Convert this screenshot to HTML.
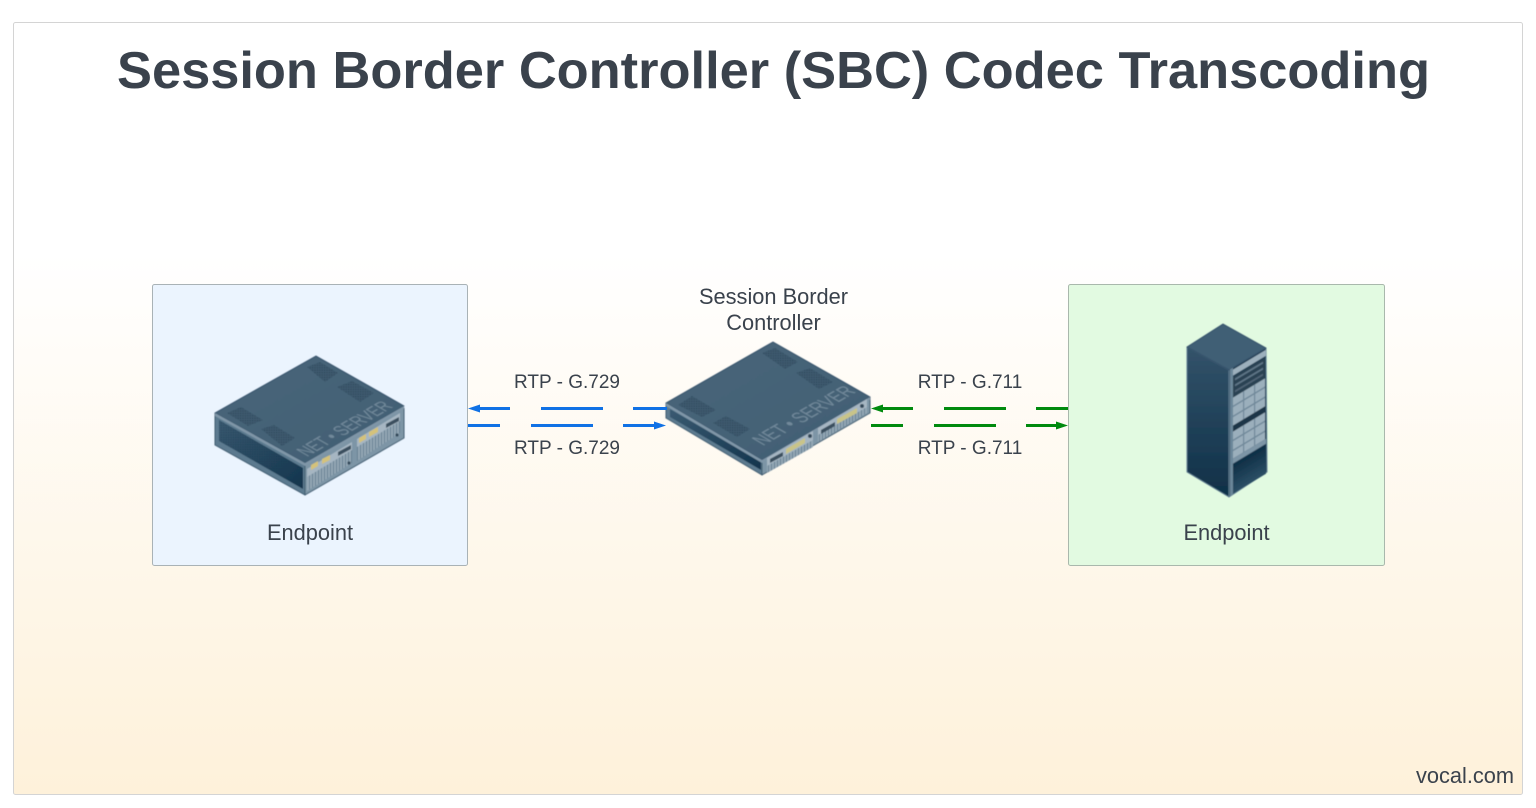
<!DOCTYPE html>
<html>
<head>
<meta charset="utf-8">
<style>
html,body{margin:0;padding:0;background:#fff;width:1536px;height:808px;overflow:hidden}
svg{display:block}
text{font-family:"Liberation Sans",sans-serif;fill:#3a424c}
</style>
</head>
<body>
<svg width="1536" height="808" viewBox="0 0 1536 808" xmlns="http://www.w3.org/2000/svg">
<defs>
<filter id="soft" x="-5%" y="-5%" width="110%" height="110%"><feGaussianBlur stdDeviation="0.45"/></filter>
<linearGradient id="bg" x1="0" y1="0" x2="0" y2="1">
<stop offset="0" stop-color="#ffffff"/>
<stop offset=".3" stop-color="#ffffff"/>
<stop offset="1" stop-color="#fef1da"/>
</linearGradient>
<linearGradient id="topF" x1="0" y1="0" x2="1" y2="1">
<stop offset="0" stop-color="#48657a"/>
<stop offset="1" stop-color="#426074"/>
</linearGradient>
<linearGradient id="sideD" x1="0" y1="0" x2="1" y2="1">
<stop offset="0" stop-color="#3a5a71"/>
<stop offset="1" stop-color="#12344d"/>
</linearGradient>
<linearGradient id="rackL" x1="0" y1="0" x2="0" y2="1">
<stop offset="0" stop-color="#33536a"/>
<stop offset="1" stop-color="#0f3048"/>
</linearGradient>
<linearGradient id="rackB" x1="0" y1="0" x2="0" y2="1">
<stop offset="0" stop-color="#0e2e45"/>
<stop offset="1" stop-color="#2c4f66"/>
</linearGradient>
<pattern id="vent" width="2.4" height="2.4" patternUnits="userSpaceOnUse">
<rect width="2.4" height="2.4" fill="#3f5b70"/>
<rect width="1.2" height="1.2" fill="#2b4559"/>
</pattern>
<pattern id="grid" width="2.4" height="2.4" patternUnits="userSpaceOnUse">
<rect width="2.4" height="2.4" fill="none"/>
<rect width="1.2" height="1.2" fill="#1c3a50" opacity=".55"/>
</pattern>
<pattern id="stripes" width="3" height="4" patternUnits="userSpaceOnUse">
<rect width="3" height="4" fill="#94a8b6"/>
<rect width="1" height="4" fill="#667f91"/>
</pattern>
</defs>

<rect x="13.5" y="22.5" width="1509" height="772" rx="2" fill="url(#bg)" stroke="#d4d4d4" stroke-width="1"/>

<text x="773.5" y="88" text-anchor="middle" font-size="52" font-weight="700" textLength="1313" lengthAdjust="spacingAndGlyphs">Session Border Controller (SBC) Codec Transcoding</text>

<rect x="152.5" y="284.5" width="315" height="281" rx="2" fill="#ebf4fe" stroke="#a9b2b6"/>
<rect x="1068.5" y="284.5" width="316" height="281" rx="2" fill="#e2fae1" stroke="#a9b8ac"/>

<!-- left server -->
<g stroke-linejoin="round" filter="url(#soft)">
<polygon points="215,413 305,465 305,495 215,445" fill="#5c7a8f" stroke="#3f5b70"/>
<polygon points="219,420 303,468 303,489 219,441" fill="url(#sideD)"/>
<polygon points="219,420 303,468 303,489 219,441" fill="url(#grid)"/>
<polygon points="305,465 404,408 404,438 305,495" fill="#7d95a6" stroke="#3f5b70"/>
<polygon points="316,356 404,406 305,463 215,413" fill="url(#topF)" stroke="#36516a"/>
<polygon points="215,413 305,463 305,466 215,416" fill="#7f96a7"/>
<polygon points="305,463 404,406 404,409 305,466" fill="#7f96a7"/>
<polygon points="307,367 320,362 338,373 325,382" fill="url(#vent)"/>
<polygon points="337,387 352,381 374,393 360,402" fill="url(#vent)"/>
<polygon points="227,413 241,407 263,420 248,426" fill="url(#vent)"/>
<polygon points="261,429 274,425 295,438 282,446" fill="url(#vent)"/>
<polygon points="307,469 352,443 352,463 307,491" fill="url(#stripes)"/>
<polygon points="357,440 400,414 400,433 357,461" fill="url(#stripes)"/>
<polygon points="307,469 352,442 352,450 307,477" fill="#a6b6c2"/>
<polygon points="357,439 400,413 400,421 357,447" fill="#a6b6c2"/>
<polygon points="338,452 351,445 351,449 338,456" fill="#3a4f5f"/>
<polygon points="386,424 399,417 399,421 386,428" fill="#3a4f5f"/>
<g fill="#d4c27a">
<polygon points="311,465 318,461 318,466 311,470"/>
<polygon points="322,459 330,455 330,460 322,464"/>
<polygon points="359,438 366,434 366,439 359,443"/>
<polygon points="369,432 378,427 378,432 369,437"/>
</g>
<circle cx="349" cy="463" r="1.6" fill="#33495a"/>
<circle cx="397" cy="435" r="1.6" fill="#33495a"/>
<text transform="matrix(.866,-.5,.866,.5,307,457)" font-size="20" style="fill:#71889a" textLength="100" lengthAdjust="spacingAndGlyphs">NET • SERVER</text>
</g>

<!-- middle server -->
<g stroke-linejoin="round" filter="url(#soft)">
<polygon points="666,403 762,460 762,475 666,418" fill="#5c7a8f" stroke="#3f5b70"/>
<polygon points="670,409 761,462 761,470 670,417" fill="url(#sideD)"/>
<polygon points="762,460 870,397 870,413 762,475" fill="#7d95a6" stroke="#3f5b70"/>
<polygon points="773,342 870,397 762,460 666,403" fill="url(#topF)" stroke="#36516a"/>
<polygon points="666,403 762,460 762,463 666,406" fill="#7f96a7"/>
<polygon points="762,460 870,397 870,400 762,463" fill="#7f96a7"/>
<polygon points="762,353 775,348 798,362 785,369" fill="url(#vent)"/>
<polygon points="796,373 810,368 833,382 819,389" fill="url(#vent)"/>
<polygon points="678,405 692,396 716,410 702,417" fill="url(#vent)"/>
<polygon points="713,423 726,416 750,429 737,437" fill="url(#vent)"/>
<polygon points="767,459 813,432 813,447 767,473" fill="url(#stripes)"/>
<polygon points="818,429 867,400 867,413 818,442" fill="url(#stripes)"/>
<polygon points="767,458 813,431 813,440 767,466" fill="#a6b6c2"/>
<polygon points="818,428 867,399 867,407 818,435" fill="#a6b6c2"/>
<polygon points="770,459 783,452 783,456 770,463" fill="#3a4f5f"/>
<polygon points="821,430 835,422 835,426 821,434" fill="#3a4f5f"/>
<polygon points="786,449 805,438 805,443 786,454" fill="#c9c489"/>
<polygon points="837,419 857,408 857,413 837,424" fill="#c9c489"/>
<circle cx="810" cy="436" r="2" fill="#33495a"/>
<circle cx="862" cy="406" r="2" fill="#33495a"/>
<text transform="matrix(.866,-.5,.866,.5,763,446)" font-size="21" style="fill:#71889a" textLength="108" lengthAdjust="spacingAndGlyphs">NET • SERVER</text>
</g>

<!-- rack -->
<g stroke-linejoin="round" filter="url(#soft)">
<polygon points="1187,347 1229,370 1229,497 1187,472" fill="url(#rackL)" stroke="#5f7d91"/>
<polygon points="1229,370 1266,348 1267,472 1229,497" fill="#16374e" stroke="#5f7d91"/>
<polygon points="1223,324 1266,348 1229,370 1187,347" fill="#3f5e75" stroke="#36516a"/>
<g transform="matrix(1,-.6,0,1,1229,370)">
<rect x="1" y="0" width="3" height="127" fill="#6b8699"/>
<rect x="4" y="2" width="33" height="6" fill="#9db0bd"/>
<rect x="4" y="9" width="32" height="21" fill="#2a4253"/>
<rect x="6" y="12" width="28" height="2" fill="#5f7687"/>
<rect x="6" y="18" width="28" height="2" fill="#5f7687"/>
<rect x="6" y="24" width="28" height="2" fill="#4f6375"/>
<rect x="4" y="30" width="32" height="28" fill="#9bafbc"/>
<rect x="4" y="38" width="32" height="1.6" fill="#70889a"/>
<rect x="4" y="48" width="32" height="1.6" fill="#70889a"/>
<rect x="14" y="30" width="1.2" height="28" fill="#70889a"/>
<rect x="25" y="30" width="1.2" height="28" fill="#70889a"/>
<rect x="4" y="58" width="32" height="6" fill="#1c3546"/>
<rect x="4" y="64" width="32" height="27" fill="#9bafbc"/>
<rect x="4" y="72" width="32" height="1.6" fill="#70889a"/>
<rect x="4" y="82" width="32" height="1.6" fill="#70889a"/>
<rect x="14" y="64" width="1.2" height="27" fill="#70889a"/>
<rect x="25" y="64" width="1.2" height="27" fill="#70889a"/>
<rect x="4" y="91" width="33" height="5" fill="#7d95a6"/>
<rect x="4" y="97" width="33" height="29" fill="url(#rackB)"/>
</g>
</g>

<!-- connectors -->
<g stroke-width="3" fill="none">
<g stroke="#1071e5">
<path d="M478 408.5H510M541 408.5H603M633 408.5H667"/>
<path d="M468 425.5H500M531 425.5H593M623 425.5H656"/>
</g>
<g stroke="#008a0e">
<path d="M881 408.5H913M944 408.5H1006M1036 408.5H1068"/>
<path d="M871 425.5H903M934 425.5H996M1026 425.5H1058"/>
</g>
</g>
<polygon points="468,408.5 480,404.5 480,412.5" fill="#1071e5"/>
<polygon points="666,425.5 654,421.5 654,429.5" fill="#1071e5"/>
<polygon points="871,408.5 883,404.5 883,412.5" fill="#008a0e"/>
<polygon points="1068,425.5 1056,421.5 1056,429.5" fill="#008a0e"/>

<g font-size="19" text-anchor="middle">
<text x="567" y="388">RTP - G.729</text>
<text x="567" y="454">RTP - G.729</text>
<text x="970" y="388">RTP - G.711</text>
<text x="970" y="454">RTP - G.711</text>
</g>
<g font-size="21.8" text-anchor="middle">
<text x="310" y="540">Endpoint</text>
<text x="1226.5" y="540">Endpoint</text>
<text x="773.5" y="304">Session Border</text>
<text x="773.5" y="330">Controller</text>
<text x="1465" y="783">vocal.com</text>
</g>
</svg>
</body>
</html>
